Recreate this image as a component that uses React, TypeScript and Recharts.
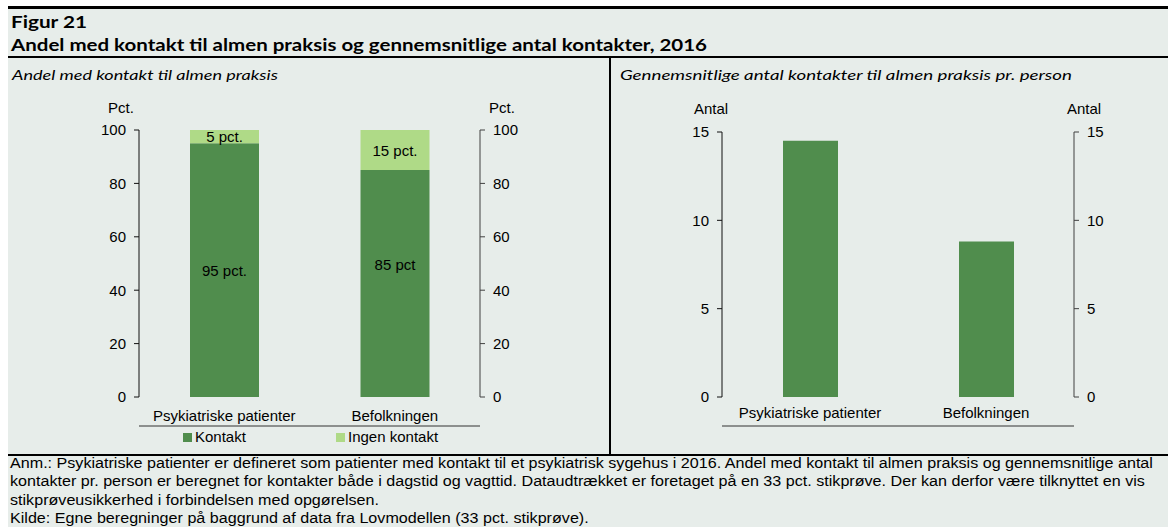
import React from 'react';
import { BarChart, Bar, XAxis, YAxis, Legend, LabelList } from 'recharts';

// --- data ---
const groups = ['Psykiatriske patienter', 'Befolkningen'];
const kontakt = [95, 85];
const ingenKontakt = [5, 15];
const kontaktLabels = ['95 pct.', '85 pct'];
const ingenLabels = ['5 pct.', '15 pct.'];
const pctTicks = [0, 20, 40, 60, 80, 100];

const antalKontakter = [14.5, 8.8];
const antalTicks = [0, 5, 10, 15];

const noteLines = [
  'Anm.: Psykiatriske patienter er defineret som patienter med kontakt til et psykiatrisk sygehus i 2016. Andel med kontakt til almen praksis og gennemsnitlige antal',
  'kontakter pr. person er beregnet for kontakter både i dagstid og vagttid. Dataudtrækket er foretaget på en 33 pct. stikprøve. Der kan derfor være tilknyttet en vis',
  'stikprøveusikkerhed i forbindelsen med opgørelsen.',
  'Kilde: Egne beregninger på baggrund af data fra Lovmodellen (33 pct. stikprøve).',
];

const shareData = groups.map((g, i) => ({
  group: g,
  kontakt: kontakt[i],
  ingen: ingenKontakt[i],
  kLabel: kontaktLabels[i],
  iLabel: ingenLabels[i],
}));
const countData = groups.map((g, i) => ({ group: g, antal: antalKontakter[i] }));

const DARK = '#508D4D';
const LIGHT = '#AFDA87';
const BG = '#E7EDEA';
const FONT = '"Liberation Sans", Arial, sans-serif';
const TITLE_FONT = 'Lato, "Open Sans", sans-serif';

const tickStyle = { fontSize: 15, fill: '#000' };
const legendOrder = ['kontakt', 'ingen'];
const legendX = [183, 336];
const kontaktLabelShift = [0, -19];

function BarText(props: any) {
  const vb = props.viewBox && props.viewBox.width != null ? props.viewBox : props;
  const { x, y, width, height } = vb;
  const shift = props.shift ? props.shift[props.index] || 0 : 0;
  return (
    <text
      x={x + width / 2}
      y={y + height / 2 + shift}
      textAnchor="middle"
      dominantBaseline="central"
      fontSize={15}
      fill="#000"
    >
      {props.value}
    </text>
  );
}

function ShareLegend({ payload }: any) {
  const items = [...(payload || [])].sort(
    (a: any, b: any) => legendOrder.indexOf(a.dataKey) - legendOrder.indexOf(b.dataKey)
  );
  return (
    <div style={{ position: 'relative', height: 20, fontFamily: FONT }}>
      {items.map((p: any, i: number) => (
        <span
          key={p.value}
          style={{
            position: 'absolute',
            left: legendX[i],
            top: 0,
            display: 'flex',
            alignItems: 'center',
            fontSize: 15,
            lineHeight: '20px',
            color: '#000',
            whiteSpace: 'nowrap',
          }}
        >
          <span style={{ width: 9, height: 9, background: p.color, marginRight: 3 }} />
          {p.value}
        </span>
      ))}
    </div>
  );
}

function ShareChart() {
  return (
    <BarChart
      width={600}
      height={455}
      data={shareData}
      margin={{ top: 130, right: 60, bottom: 8, left: 79 }}
    >
      <XAxis
        xAxisId="edge"
        type="number"
        domain={[0, 2]}
        ticks={[0, 1, 2]}
        allowDataOverflow
        tick={false}
        tickSize={5}
        height={1}
        stroke="#333"
      />
      <XAxis
        xAxisId="cat"
        dataKey="group"
        axisLine={false}
        tickLine={false}
        tickSize={0}
        tickMargin={13}
        height={29}
        tick={tickStyle}
        interval={0}
      />
      <YAxis
        yAxisId="l"
        domain={[0, 100]}
        ticks={pctTicks}
        tickSize={5}
        tickMargin={8}
        width={60}
        stroke="#111"
        tick={tickStyle}
      />
      <YAxis
        yAxisId="r"
        orientation="right"
        domain={[0, 100]}
        ticks={pctTicks}
        allowDataOverflow
        tickSize={5}
        tickMargin={8}
        width={60}
        stroke="#404040"
        tick={tickStyle}
      />
      <Legend
        content={<ShareLegend />}
        verticalAlign="bottom"
        wrapperStyle={{ left: 0, bottom: 8, width: 600, height: 20 }}
      />
      <Bar
        xAxisId="cat"
        yAxisId="l"
        dataKey="kontakt"
        name="Kontakt"
        stackId="a"
        fill={DARK}
        barSize={69}
        isAnimationActive={false}
      >
        <LabelList dataKey="kLabel" content={<BarText shift={kontaktLabelShift} />} />
      </Bar>
      <Bar
        xAxisId="cat"
        yAxisId="l"
        dataKey="ingen"
        name="Ingen kontakt"
        stackId="a"
        fill={LIGHT}
        barSize={69}
        isAnimationActive={false}
      >
        <LabelList dataKey="iLabel" content={<BarText />} />
      </Bar>
    </BarChart>
  );
}

function CountChart() {
  return (
    <BarChart
      width={568}
      height={455}
      data={countData}
      margin={{ top: 132, right: 34, bottom: 28, left: 62 }}
    >
      <XAxis
        xAxisId="edge"
        type="number"
        domain={[0, 2]}
        ticks={[0, 1, 2]}
        allowDataOverflow
        tick={false}
        tickSize={5}
        height={1}
        stroke="#333"
      />
      <XAxis
        xAxisId="cat"
        dataKey="group"
        axisLine={false}
        tickLine={false}
        tickSize={0}
        tickMargin={10}
        height={29}
        tick={tickStyle}
        interval={0}
      />
      <YAxis
        yAxisId="l"
        domain={[0, 15]}
        ticks={antalTicks}
        tickSize={5}
        tickMargin={8}
        width={60}
        stroke="#111"
        tick={tickStyle}
      />
      <YAxis
        yAxisId="r"
        orientation="right"
        domain={[0, 15]}
        ticks={antalTicks}
        allowDataOverflow
        tickSize={5}
        tickMargin={8}
        width={60}
        stroke="#404040"
        tick={tickStyle}
      />
      <Bar
        xAxisId="cat"
        yAxisId="l"
        dataKey="antal"
        name="Antal kontakter"
        fill={DARK}
        barSize={55}
        isAnimationActive={false}
      />
    </BarChart>
  );
}

export default function App() {
  return (
    <div style={{ position: 'relative', width: 1168, height: 527, background: '#fff', overflow: 'hidden', fontFamily: FONT }}>
      <style>{'body{margin:0}'}</style>
      <div style={{ position: 'absolute', left: 8, top: 9, width: 1160, height: 518, background: BG }} />
      <div style={{ position: 'absolute', left: 8, top: 6, width: 1160, height: 3, background: '#000' }} />
      <div style={{ position: 'absolute', left: 8, top: 56, width: 1160, height: 2, background: '#000' }} />
      <div style={{ position: 'absolute', left: 8, top: 454, width: 1160, height: 2, background: '#000' }} />
      <div style={{ position: 'absolute', left: 609, top: 58, width: 2, height: 396, background: '#000' }} />

      <div style={{ position: 'absolute', left: 0, top: 0 }}>
        <ShareChart />
      </div>
      <div style={{ position: 'absolute', left: 600, top: 0 }}>
        <CountChart />
      </div>

      <svg width={1168} height={527} style={{ position: 'absolute', left: 0, top: 0, pointerEvents: 'none' }}>
        <text
          x={11}
          y={28}
          fontFamily={TITLE_FONT}
          fontWeight={700}
          fontSize={17}
          fill="#000"
          textLength={76}
          lengthAdjust="spacingAndGlyphs"
        >
          Figur 21
        </text>
        <text
          x={11}
          y={51}
          fontFamily={TITLE_FONT}
          fontWeight={700}
          fontSize={17}
          fill="#000"
          textLength={696}
          lengthAdjust="spacingAndGlyphs"
        >
          Andel med kontakt til almen praksis og gennemsnitlige antal kontakter, 2016
        </text>
        <text x={12} y={80} fontFamily={TITLE_FONT} fontStyle="italic" fontSize={14} fill="#000" textLength={266} lengthAdjust="spacingAndGlyphs">
          Andel med kontakt til almen praksis
        </text>
        <text x={620} y={80} fontFamily={TITLE_FONT} fontStyle="italic" fontSize={14} fill="#000" textLength={452} lengthAdjust="spacingAndGlyphs">
          Gennemsnitlige antal kontakter til almen praksis pr. person
        </text>

        <g fontFamily={FONT} fontSize={15} fill="#000" textAnchor="middle" dominantBaseline="central">
          <text x={121} y={107}>Pct.</text>
          <text x={502} y={107}>Pct.</text>
          <text x={711} y={108}>Antal</text>
          <text x={1084} y={108}>Antal</text>
        </g>

        <g transform="translate(10 0) scale(1.075 1)" fontFamily={FONT} fontSize={15} fill="#000">
          {noteLines.map((line, i) => (
            <text key={i} x={0} y={468 + i * 18.5}>
              {line}
            </text>
          ))}
        </g>
      </svg>
    </div>
  );
}
